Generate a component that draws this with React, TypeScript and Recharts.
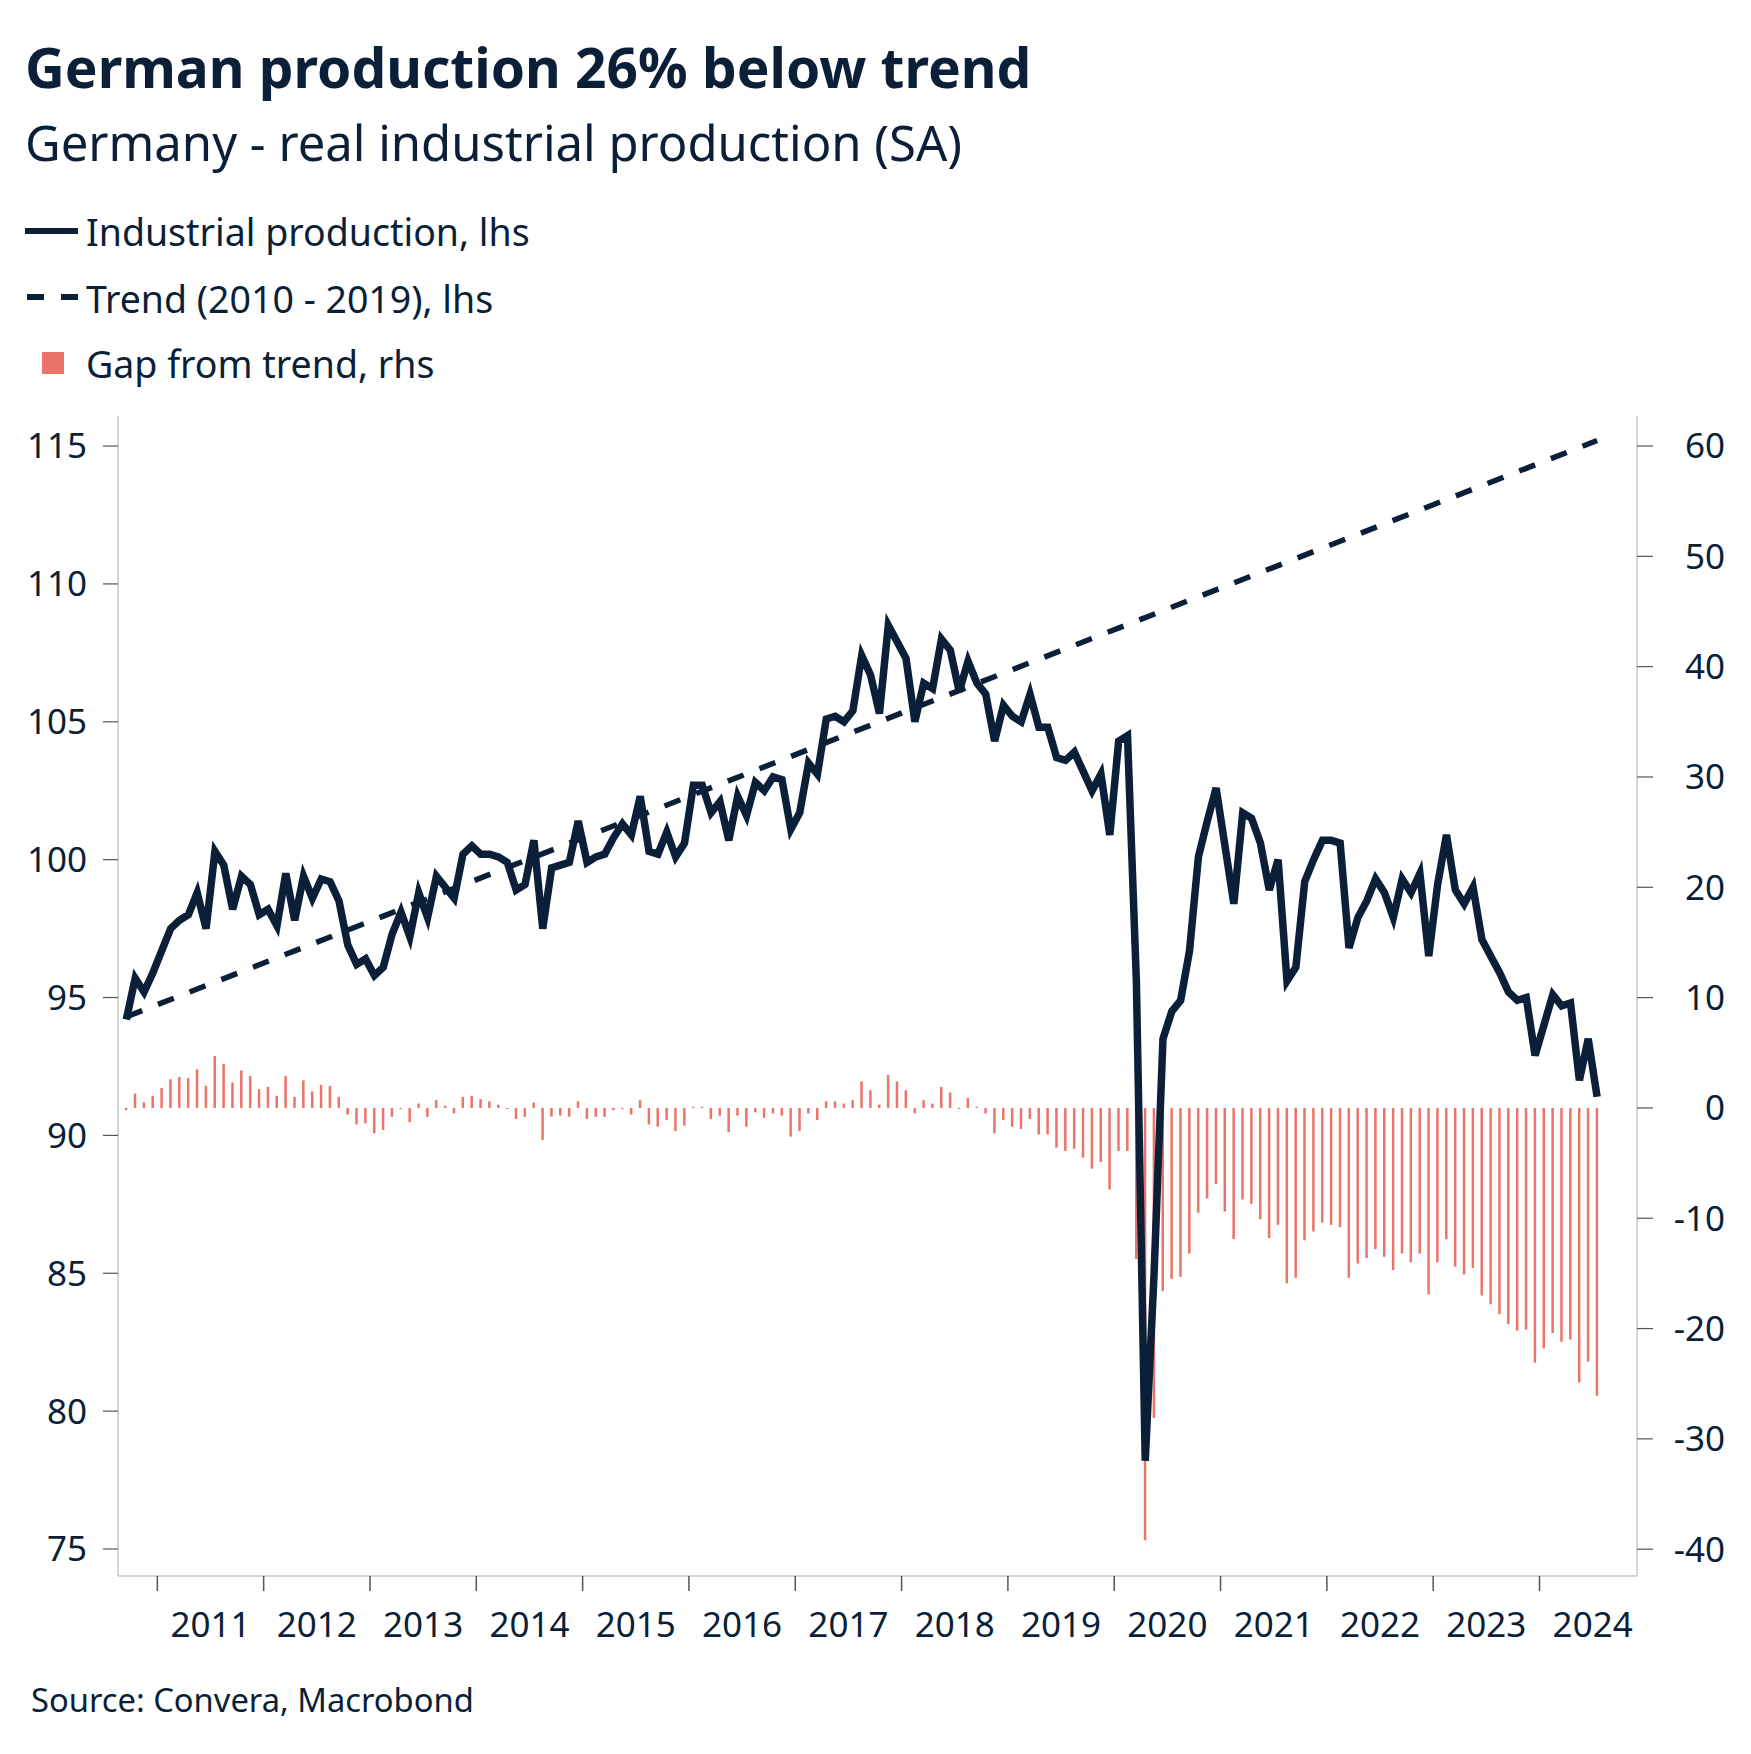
import { ComposedChart, Line, Bar, XAxis, YAxis } from "recharts";

// monthly, Sep 2010 .. Jul 2024
const startYear = 2010;
const startMonth = 9;

const production = [
  94.2, 95.7, 95.2, 95.9, 96.7, 97.5, 97.8, 98.0, 98.8, 97.5, 100.3, 99.8,
  98.2, 99.4, 99.1, 98.0, 98.2, 97.6, 99.5, 97.8, 99.4, 98.6, 99.3, 99.2,
  98.5, 96.9, 96.2, 96.4, 95.8, 96.1, 97.3, 98.1, 97.2, 98.8, 97.9, 99.4,
  99.0, 98.6, 100.2, 100.5, 100.2, 100.2, 100.1, 99.9, 98.9, 99.1, 100.7, 97.5,
  99.7, 99.8, 99.9, 101.4, 99.9, 100.1, 100.2, 100.8, 101.3, 100.9, 102.3, 100.3,
  100.2, 101.0, 100.1, 100.6, 102.7, 102.7, 101.7, 102.1, 100.7, 102.3, 101.6, 102.8,
  102.5, 103.0, 102.9, 101.1, 101.7, 103.5, 103.1, 105.1, 105.2, 105.0, 105.4, 107.4,
  106.7, 105.3, 108.5, 107.9, 107.3, 105.0, 106.4, 106.2, 108.0, 107.6, 106.1, 107.2,
  106.4, 106.0, 104.3, 105.6, 105.2, 105.0, 106.0, 104.8, 104.8, 103.7, 103.6, 103.9,
  103.2, 102.5, 103.1, 100.9, 104.3, 104.5, 95.6, 78.2, 85.0, 93.5, 94.5, 94.9,
  96.7, 100.1, 101.4, 102.6, 100.5, 98.4, 101.7, 101.5, 100.6, 98.9, 100.0, 95.6,
  96.1, 99.2, 100.0, 100.7, 100.7, 100.6, 96.8, 97.9, 98.5, 99.3, 98.8, 97.9,
  99.3, 98.8, 99.5, 96.5, 99.1, 100.9, 98.9, 98.4, 99.0, 97.1, 96.5, 95.9,
  95.2, 94.9, 95.0, 92.9, 94.0, 95.1, 94.7, 94.8, 92.0, 93.5, 91.4,
];

const gap = [
  -0.2, 1.3, 0.5, 1.1, 1.8, 2.6, 2.8, 2.7, 3.5, 2.0, 4.7, 4.0,
  2.3, 3.4, 2.9, 1.7, 1.9, 1.1, 2.9, 1.0, 2.5, 1.5, 2.1, 2.0,
  1.0, -0.6, -1.5, -1.4, -2.3, -2.0, -0.8, -0.1, -1.3, 0.4, -0.8, 0.7,
  0.2, -0.5, 1.0, 1.1, 0.8, 0.6, 0.3, -0.1, -1.0, -0.8, 0.5, -2.9,
  -0.8, -0.7, -0.8, 0.6, -1.0, -0.8, -0.8, -0.2, -0.1, -0.6, 0.7, -1.5,
  -1.7, -1.1, -2.1, -1.6, 0.1, 0.1, -1.0, -0.7, -2.2, -0.7, -1.7, -0.4,
  -0.9, -0.5, -0.7, -2.6, -2.1, -0.5, -1.1, 0.6, 0.6, 0.4, 0.7, 2.4,
  1.6, 0.3, 3.0, 2.4, 1.6, -0.5, 0.7, 0.4, 1.9, 1.4, -0.1, 0.9,
  0.1, -0.5, -2.3, -1.1, -1.7, -1.9, -1.0, -2.4, -2.4, -3.6, -3.9, -3.7,
  -4.5, -5.5, -4.9, -7.4, -3.9, -3.9, -13.7, -39.2, -28.1, -16.6, -15.5, -15.3,
  -13.2, -9.5, -8.2, -6.9, -9.4, -11.9, -8.3, -8.7, -10.1, -11.8, -10.6, -15.9,
  -15.4, -12.0, -11.2, -10.4, -10.6, -10.8, -15.4, -14.1, -13.6, -12.8, -13.5, -14.7,
  -13.2, -14.0, -13.2, -16.9, -14.0, -11.9, -14.4, -15.1, -14.5, -17.0, -17.8, -18.7,
  -19.6, -20.2, -20.1, -23.1, -21.8, -20.4, -21.2, -21.0, -24.9, -23.0, -26.1,
];

// linear trend, first and last month
const trendEnds = [94.3, 115.2];

const yearTicks = [2011, 2012, 2013, 2014, 2015, 2016, 2017, 2018, 2019, 2020, 2021, 2022, 2023, 2024];
const yearLabelTicks = [2011.5, 2012.5, 2013.5, 2014.5, 2015.5, 2016.5, 2017.5, 2018.5, 2019.5, 2020.5, 2021.5, 2022.5, 2023.5, 2024.5];
const leftTicks = [75, 80, 85, 90, 95, 100, 105, 110, 115];
const rightTicks = [-40, -30, -20, -10, 0, 10, 20, 30, 40, 50, 60];

const NAVY = "#0b1f38";
const SALMON = "#ea7467";
const FONT = "'Segoe UI', 'Noto Sans', sans-serif";

const rows = production.map((v, i) => ({
  t: startYear + (startMonth - 1 + i + 0.5) / 12,
  ip: v,
  gap: gap[i],
  trend: i === 0 ? trendEnds[0] : i === production.length - 1 ? trendEnds[1] : null,
}));

const xDomain = [2010.63, 2024.917];

const RightTick = ({ x, y, payload }: any) => (
  <text x={x + 72} y={y} dy="0.355em" textAnchor="end" fill={NAVY} fontSize={35} fontFamily={FONT}>
    {payload.value}
  </text>
);

// year boundaries only get a tick mark, no text
const NoLabel = () => <g />;

export default function App() {
  return (
    <div style={{ position: "absolute", left: 0, top: 0, width: 1751, height: 1754, background: "#fff" }}>
      <svg width={1751} height={1754} style={{ position: "absolute", left: 0, top: 0 }}>
        <text x={25} y={88} fontSize={55} fontWeight={700} fill={NAVY} fontFamily={FONT}>
          German production 26% below trend
        </text>
        <text x={25} y={161} fontSize={49} fill={NAVY} fontFamily={FONT}>
          Germany - real industrial production (SA)
        </text>
        <line x1={25} y1={231} x2={78} y2={231} stroke={NAVY} strokeWidth={6} />
        <text x={86} y={246} fontSize={37.5} fill={NAVY} fontFamily={FONT}>Industrial production, lhs</text>
        <line x1={27} y1={297} x2={78} y2={297} stroke={NAVY} strokeWidth={6} strokeDasharray="17 17" />
        <text x={86} y={313} fontSize={37.5} fill={NAVY} fontFamily={FONT}>Trend (2010 - 2019), lhs</text>
        <rect x={42} y={352} width={22} height={22} fill={SALMON} />
        <text x={86} y={378} fontSize={37.5} fill={NAVY} fontFamily={FONT}>Gap from trend, rhs</text>
        <text x={31} y={1712} fontSize={32.7} fill={NAVY} fontFamily={FONT}>Source: Convera, Macrobond</text>
      </svg>
      <div style={{ position: "absolute", left: 0, top: 0 }}>
        <ComposedChart
          width={1751}
          height={1754}
          data={rows}
          margin={{ top: 416, right: 0, bottom: 78, left: 0 }}
        >
          <XAxis
            xAxisId={0}
            dataKey="t"
            type="number"
            domain={xDomain}
            allowDataOverflow
            ticks={yearTicks}
            interval={0}
            tick={<NoLabel />}
            tickSize={15}
            height={15}
            axisLine={{ stroke: "#c8c8c8", strokeWidth: 1.5 }}
            tickLine={{ stroke: "#555", strokeWidth: 1.5 }}
          />
          <XAxis
            xAxisId={1}
            dataKey="t"
            type="number"
            domain={xDomain}
            allowDataOverflow
            ticks={yearLabelTicks}
            interval={0}
            tickFormatter={(v: number) => String(Math.floor(v))}
            tickSize={0}
            tickMargin={21}
            tickLine={false}
            axisLine={false}
            height={85}
            tick={{ fill: NAVY, fontSize: 35, fontFamily: FONT }}
          />
          <YAxis
            yAxisId="left"
            orientation="left"
            type="number"
            domain={[74.02, 116.09]}
            allowDataOverflow
            ticks={leftTicks}
            interval={0}
            width={118}
            tickSize={15}
            tickMargin={16}
            axisLine={{ stroke: "#c8c8c8", strokeWidth: 1.5 }}
            tickLine={{ stroke: "#555", strokeWidth: 1.2 }}
            tick={{ fill: NAVY, fontSize: 35, fontFamily: FONT }}
          />
          <YAxis
            yAxisId="right"
            orientation="right"
            type="number"
            domain={[-42.43, 62.72]}
            allowDataOverflow
            ticks={rightTicks}
            interval={0}
            width={114}
            tickSize={16}
            tickMargin={0}
            axisLine={{ stroke: "#c8c8c8", strokeWidth: 1.5 }}
            tickLine={{ stroke: "#555", strokeWidth: 1.2 }}
            tick={<RightTick />}
          />
          <Bar
            xAxisId={0}
            yAxisId="right"
            dataKey="gap"
            fill={SALMON}
            barSize={2.5}
            isAnimationActive={false}
          />
          <Line
            xAxisId={0}
            yAxisId="left"
            dataKey="trend"
            type="linear"
            stroke={NAVY}
            strokeWidth={5.5}
            strokeDasharray="17 17"
            connectNulls
            dot={false}
            activeDot={false}
            isAnimationActive={false}
          />
          <Line
            xAxisId={0}
            yAxisId="left"
            dataKey="ip"
            type="linear"
            stroke={NAVY}
            strokeWidth={7.5}
            dot={false}
            activeDot={false}
            isAnimationActive={false}
          />
        </ComposedChart>
      </div>
    </div>
  );
}
